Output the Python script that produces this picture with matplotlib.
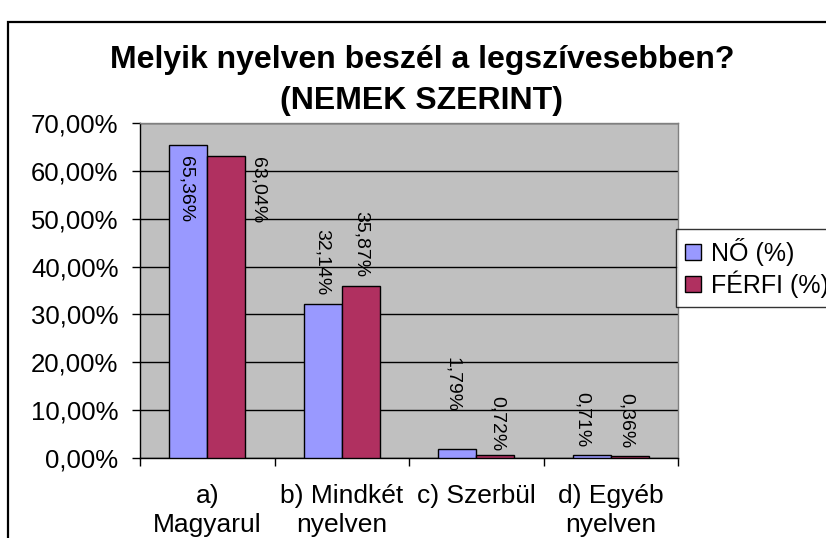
import numpy as np
import matplotlib.pyplot as plt
from matplotlib.patches import Rectangle
from matplotlib.ticker import FuncFormatter

plt.rcParams['font.family'] = ['Liberation Sans', 'DejaVu Sans']

categories = ['a)\nMagyarul', 'b) Mindkét\nnyelven', 'c) Szerbül', 'd) Egyéb\nnyelven']
no_pct = [65.36, 32.14, 1.79, 0.71]
ferfi_pct = [63.04, 35.87, 0.72, 0.36]
series_names = ['NŐ (%)', 'FÉRFI (%)']
title_lines = ['Melyik nyelven beszél a legszívesebben?', '(NEMEK SZERINT)']

# label placement (pixels) per bar: dx, dy, vertical alignment
no_offsets = [(-2, -11, 'top'), (0, 9, 'bottom'), (-5, 37, 'bottom'), (-9, 7, 'bottom')]
ferfi_offsets = [(32, -1, 'top'), (0, 9, 'bottom'), (2, 3, 'bottom'), (-4, 8, 'bottom')]

W, H = 826, 538
fig = plt.figure(figsize=(W / 100, H / 100), dpi=100)
ax = fig.add_axes([140 / W, 1 - 458 / H, 538 / W, 335 / H])

# outer chart border (runs off right and bottom)
fig.patches.append(Rectangle((8 / W, -0.2), 1.2, 1.2 - 22 / H, transform=fig.transFigure,
                             fill=False, edgecolor='black', linewidth=1.6, clip_on=False))

ax.set_facecolor('#C0C0C0')
x = np.arange(len(categories))
w = 0.283
b1 = ax.bar(x - w / 2, no_pct, w, color='#9999FF', edgecolor='black', linewidth=1, zorder=3, label=series_names[0])
b2 = ax.bar(x + w / 2, ferfi_pct, w, color='#B03060', edgecolor='black', linewidth=1, zorder=3, label=series_names[1])

def fmt(v):
    return f'{v:.2f}%'.replace('.', ',')

for bars, vals, offs in [(b1, no_pct, no_offsets), (b2, ferfi_pct, ferfi_offsets)]:
    for bar, v, (dx, dy, va) in zip(bars, vals, offs):
        ax.annotate(fmt(v), (bar.get_x() + bar.get_width() / 2, v), xytext=(dx, dy),
                    textcoords='offset pixels', rotation=270, ha='center', va=va,
                    fontsize=14, zorder=4)

ax.set_ylim(0, 70)
ax.set_xlim(-0.5, len(categories) - 0.5)
ax.set_yticks(np.arange(0, 71, 10))
ax.yaxis.set_major_formatter(FuncFormatter(lambda v, p: f'{v:.2f}%'.replace('.', ',')))
ax.grid(axis='y', color='black', linewidth=1, zorder=1)
ax.set_axisbelow(True)

ax.set_xticks(x)
ax.set_xticklabels(categories, fontsize=19, linespacing=1.25)
ax.set_xticks(np.arange(-0.5, len(categories)), minor=True)
ax.tick_params(axis='x', which='major', length=0, pad=19)
ax.tick_params(axis='x', which='minor', length=6, direction='out', width=1)
ax.tick_params(axis='y', labelsize=18.5, length=5.5, width=1, pad=10)

for s in ['left', 'bottom']:
    ax.spines[s].set_color('black')
    ax.spines[s].set_linewidth(1)
for s in ['top', 'right']:
    ax.spines[s].set_color('#808080')
    ax.spines[s].set_linewidth(1)

fig.text(422 / W, 1 - 60 / H, title_lines[0], ha='center', va='center', fontsize=23, fontweight='bold')
fig.text(422 / W, 1 - 101 / H, title_lines[1], ha='center', va='center', fontsize=23, fontweight='bold')

leg = fig.legend(loc='upper left', bbox_to_anchor=(676 / W, 1 - 229 / H), borderaxespad=0,
                 fontsize=18, frameon=True, fancybox=False, edgecolor='black',
                 handlelength=0.65, handleheight=0.65, handletextpad=0.4, borderpad=0.35,
                 labelspacing=0.18)
leg.get_frame().set_linewidth(1)

fig.savefig('out.png', dpi=100)
